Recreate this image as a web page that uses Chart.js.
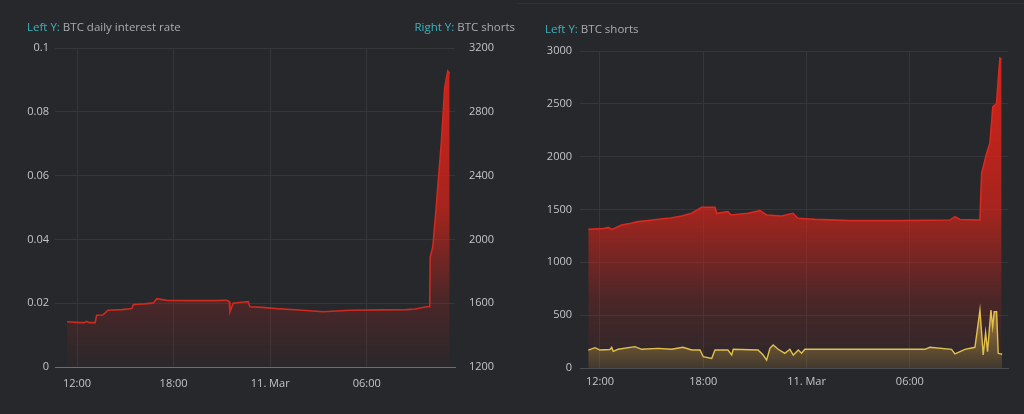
<!DOCTYPE html>
<html>
<head>
<meta charset="utf-8">
<script src="https://cdn.jsdelivr.net/npm/chart.js@4.4.1/dist/chart.umd.min.js"></script>
<style>
  body { margin: 0; width: 1024px; height: 414px; overflow: hidden; background: #26282c; font-family: "Open Sans", sans-serif; }
  .panel { position: absolute; top: 0; height: 414px; background: #26282c; }
  #leftPanel { left: 0; width: 518px; }
  #rightPanel { left: 518px; width: 506px; }
  #rightPanel .edge { position: absolute; left: 0; right: 0; top: 3px; height: 1px; background: #2f3236; }
  .title { position: absolute; font-size: 11.5px; line-height: 14px; color: #a9acb0; white-space: nowrap; }
  .title span { color: #3db3bd; }
  canvas { position: absolute; left: 0; top: 0; }
</style>
</head>
<body>
<div class="panel" id="leftPanel">
  <canvas id="leftChart" width="518" height="414"></canvas>
  <div class="title" style="left:27px; top:20px;"><span>Left Y:</span> BTC daily interest rate</div>
  <div class="title" style="right:3px; top:20px;"><span>Right Y:</span> BTC shorts</div>
</div>
<div class="panel" id="rightPanel">
  <div class="edge"></div>
  <canvas id="rightChart" width="506" height="414"></canvas>
  <div class="title" style="left:27px; top:22px;"><span>Left Y:</span> BTC shorts</div>
</div>
<script>
// x values are hours counted from 12:00 on 10 Mar
const tickHours = [0, 6, 12, 18];
const tickLabels = ['12:00', '18:00', '11. Mar', '06:00'];

// left panel: BTC daily interest rate
const rateHours = [-0.62, 0.19, 0.45, 0.60, 0.75, 1.12, 1.22, 1.60, 1.92, 2.80,
  3.40, 3.50, 4.20, 4.74, 4.95, 5.57, 7.00, 8.50, 9.29, 9.45,
  9.50, 9.70, 10.20, 10.63, 10.74, 11.50, 12.40, 14.00, 15.29, 16.95,
  19.00, 20.47, 21.00, 21.71, 21.91, 21.94, 22.10, 22.28, 22.45, 22.64,
  22.84, 23.03, 23.15];
const rateValues = [0.0142, 0.0139, 0.0139, 0.0143, 0.0139, 0.0139, 0.0162, 0.0163, 0.0178, 0.0180,
  0.0183, 0.0196, 0.0198, 0.0201, 0.0214, 0.0209, 0.0208, 0.0208, 0.0209, 0.0205,
  0.0173, 0.0200, 0.0203, 0.0205, 0.0189, 0.0187, 0.0183, 0.0178, 0.0173, 0.0178,
  0.0179, 0.0180, 0.0182, 0.0189, 0.0189, 0.0345, 0.0376, 0.0480, 0.0590, 0.0709,
  0.0876, 0.0928, 0.0920];
const rateTicks = [0, 0.02, 0.04, 0.06, 0.08, 0.1];
const shortsRightTicks = [1200, 1600, 2000, 2400, 2800, 3200];

// right panel: BTC shorts (red) and the lower yellow series
const shortsHours = [-0.68, 0.20, 0.48, 0.70, 1.26, 1.80, 2.22, 2.80, 3.39, 4.10,
  4.74, 5.33, 5.91, 6.68, 6.78, 7.43, 7.61, 8.59, 9.29, 9.68,
  10.55, 11.21, 11.50, 12.49, 14.52, 17.42, 20.33, 20.62, 20.91, 22.07,
  22.17, 22.46, 22.65, 22.82, 23.03, 23.23, 23.33];
const shortsValues = [1312, 1320, 1331, 1312, 1353, 1370, 1385, 1395, 1407, 1420,
  1438, 1464, 1521, 1521, 1464, 1479, 1448, 1464, 1489, 1448,
  1438, 1464, 1417, 1407, 1395, 1395, 1400, 1432, 1405, 1400,
  1842, 2032, 2127, 2473, 2500, 2931, 2920];
const lowerHours = [-0.68, -0.29, 0, 0.58, 0.68, 0.77, 1.05, 2.03, 2.42, 3.37,
  4.16, 4.82, 5.33, 5.81, 6.0, 6.49, 6.68, 7.43, 7.65, 7.74,
  9.18, 9.48, 9.68, 9.87, 10.06, 10.35, 10.74, 11.03, 11.23, 11.52,
  11.71, 11.90, 18.87, 19.16, 20.42, 20.62, 20.91, 21.20, 21.78, 22.07,
  22.26, 22.40, 22.51, 22.71, 22.81, 22.90, 23.04, 23.13, 23.36];
const lowerValues = [170, 192, 170, 175, 195, 158, 177, 202, 177, 186,
  177, 196, 170, 170, 107, 91, 170, 170, 123, 177,
  170, 123, 75, 186, 218, 177, 139, 177, 123, 170,
  139, 177, 177, 196, 177, 133, 155, 177, 196, 549,
  123, 336, 155, 549, 390, 533, 533, 139, 130];
const shortsLeftTicks = [0, 500, 1000, 1500, 2000, 2500, 3000];

Chart.defaults.font.family = '"Open Sans", sans-serif';
Chart.defaults.font.size = 11;
Chart.defaults.color = '#c3c5c8';

const GRID = '#33363a';

function points(xs, ys) {
    return xs.map((x, i) => ({x: x, y: ys[i]}));
}

function fixedTicks(values) {
    return scale => { scale.ticks = values.map(v => ({value: v})); };
}

// red area: strong near the top, fading out close to the axis
function redFill(context) {
    const {ctx, chartArea} = context.chart;
    if (!chartArea) return 'transparent';
    const g = ctx.createLinearGradient(0, chartArea.top, 0, chartArea.bottom);
    g.addColorStop(0, 'rgba(215,35,25,1)');
    g.addColorStop(0.5, 'rgba(215,35,25,0.72)');
    g.addColorStop(0.65, 'rgba(215,35,25,0.46)');
    g.addColorStop(0.78, 'rgba(215,35,25,0.22)');
    g.addColorStop(0.88, 'rgba(215,35,25,0.13)');
    g.addColorStop(1, 'rgba(215,35,25,0.03)');
    return g;
}

function yellowFill(context) {
    const {ctx, chartArea, scales} = context.chart;
    if (!chartArea) return 'transparent';
    const top = scales.y.getPixelForValue(600);
    const g = ctx.createLinearGradient(0, top, 0, chartArea.bottom);
    g.addColorStop(0, 'rgba(225,185,70,0.6)');
    g.addColorStop(1, 'rgba(225,185,70,0.12)');
    return g;
}

function timeAxis(min, max, height, padding, borderColor) {
    return {
        type: 'linear', min: min, max: max,
        afterBuildTicks: fixedTicks(tickHours),
        afterFit: s => { s.height = height; },
        ticks: {padding: padding, maxRotation: 0, autoSkip: false,
            callback: v => tickLabels[tickHours.indexOf(v)]},
        grid: {color: GRID, drawTicks: false},
        border: {display: true, color: borderColor, width: 1}
    };
}

const baseOptions = {
    responsive: false,
    animation: false,
    plugins: {legend: {display: false}, tooltip: {enabled: false}},
    elements: {point: {radius: 0}, line: {tension: 0}}
};

new Chart(document.getElementById('leftChart'), {
    type: 'line',
    data: {
        datasets: [{
            label: 'BTC daily interest rate',
            data: points(rateHours, rateValues),
            yAxisID: 'y',
            borderColor: '#cf2a1f',
            borderWidth: 1.6,
            fill: 'origin',
            backgroundColor: redFill
        }]
    },
    options: Object.assign({}, baseOptions, {
        layout: {padding: {top: 48, left: 0, right: 0, bottom: 0}},
        scales: {
            x: timeAxis(-1.37, 23.48, 47, 10, '#6b6e73'),
            y: {
                position: 'left', min: 0, max: 0.1,
                afterBuildTicks: fixedTicks(rateTicks),
                afterFit: s => { s.width = 55; },
                ticks: {padding: 6, callback: v => String(+v.toFixed(2))},
                grid: {color: GRID, drawTicks: false},
                border: {display: false}
            },
            y1: {
                position: 'right', min: 1200, max: 3200,
                afterBuildTicks: fixedTicks(shortsRightTicks),
                afterFit: s => { s.width = 63; },
                ticks: {padding: 14, callback: v => String(v)},
                grid: {drawOnChartArea: false, drawTicks: false},
                border: {display: false}
            }
        }
    })
});

new Chart(document.getElementById('rightChart'), {
    type: 'line',
    data: {
        datasets: [{
            label: 'BTC shorts',
            data: points(shortsHours, shortsValues),
            borderColor: '#d82a1e',
            borderWidth: 1.6,
            fill: 'origin',
            backgroundColor: redFill,
            order: 1
        }, {
            label: '',
            data: points(lowerHours, lowerValues),
            borderColor: '#e2c04e',
            borderWidth: 1.4,
            fill: 'origin',
            backgroundColor: yellowFill,
            order: 0
        }]
    },
    options: Object.assign({}, baseOptions, {
        layout: {padding: {top: 51, left: 0, right: 16, bottom: 0}},
        scales: {
            x: timeAxis(-1.16, 23.70, 46, 7, '#4a4d52'),
            y: {
                min: 0, max: 3000,
                afterBuildTicks: fixedTicks(shortsLeftTicks),
                afterFit: s => { s.width = 62; },
                ticks: {padding: 8, callback: v => String(v)},
                grid: {color: GRID, drawTicks: false},
                border: {display: false}
            }
        }
    })
});
</script>
</body>
</html>
